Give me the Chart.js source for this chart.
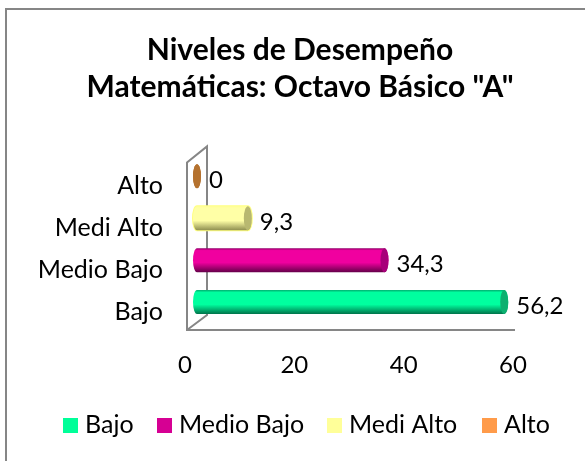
<!DOCTYPE html>
<html>
<head>
<meta charset="utf-8">
<script src="https://cdn.jsdelivr.net/npm/chart.js@4"></script>
<style>
  html, body { margin: 0; padding: 0; background: #fff; }
  #box { width: 585px; height: 461px; }
</style>
</head>
<body>
<div id="box"><canvas id="grafico" width="585" height="461"></canvas></div>
<script>
const categorias = ["Alto", "Medi Alto", "Medio Bajo", "Bajo"];
const series = ["Bajo", "Medio Bajo", "Medi Alto", "Alto"];
const bajo = [null, null, null, 56.2];
const medioBajo = [null, null, 34.3, null];
const mediAlto = [null, 9.3, null, null];
const alto = [0, null, null, null];
const ticksX = [0, 20, 40, 60];

const coresLegenda = ["#00FF99", "#D60093", "#FFFF99", "#FF9B4A"];
// topo, brilho, base, tampa do cilindro
const coresBarra = [
    ["#00B070", "#00FF9F", "#00734A", "#0DB070"],
    ["#8A0066", "#F0009F", "#66004A", "#A8007A"],
    ["#FFFF99", "#FFFFA6", "#8F8F50", "#B8B870"],
    ["#B5722F", "#B5722F", "#B5722F", "#B5722F"]
];
const FONTE = "Lato";
const CINZA = "#868686";
const RX = 4, DX = 12, DY = -8;

// Moldura e paredes "3D" do gráfico
const fundo = {
    id: "fundo",
    afterLayout(chart) {
        // centraliza o título na moldura, não na área com padding
        chart.titleBlock.left = 15;
        chart.titleBlock.right = 585;
    },
    beforeDraw(chart) {
        const c = chart.ctx;
        const a = chart.chartArea;
        c.save();
        c.strokeStyle = CINZA;
        c.lineWidth = 2;
        // só a borda de cima e a da esquerda aparecem
        c.beginPath();
        c.moveTo(585, 9);
        c.lineTo(6, 9);
        c.lineTo(6, 461);
        c.stroke();
        const x0 = a.left + 2, x1 = x0 + 20, yb = a.bottom - 1, yt = a.top - 1;
        c.beginPath();
        c.moveTo(a.right + 2, yb);
        c.lineTo(x0, yb);
        c.lineTo(x0, yt);
        c.lineTo(x1, yt - 16);
        c.lineTo(x1, yb - 15);
        c.lineTo(x0, yb);
        c.stroke();
        c.restore();
    }
};

// Desenha cada barra como cilindro, a partir dos elementos do Chart.js
const cilindro = {
    id: "cilindro",
    beforeDatasetDraw(chart, args) {
        const c = chart.ctx;
        const cores = coresBarra[args.index];
        const base = chart.scales.x.getPixelForValue(0) + DX;
        args.meta.data.forEach((bar, i) => {
            if (chart.data.datasets[args.index].data[i] === null) return;
            const y = bar.y + DY;
            const h = 24;
            const fim = bar.x + DX;
            const grad = c.createLinearGradient(0, y - h / 2, 0, y + h / 2);
            grad.addColorStop(0, cores[0]);
            grad.addColorStop(0.1, cores[1]);
            grad.addColorStop(0.6, cores[1]);
            grad.addColorStop(1, cores[2]);
            c.save();
            c.fillStyle = grad;
            c.beginPath();
            c.ellipse(base, y, RX, h / 2, 0, Math.PI / 2, Math.PI * 1.5);
            c.lineTo(fim, y - h / 2);
            c.ellipse(fim, y, RX, h / 2, 0, -Math.PI / 2, Math.PI / 2);
            c.closePath();
            if (args.index === 2) {
                // halo claro da barra amarela
                c.strokeStyle = "#FFFF80";
                c.lineWidth = 2;
                c.stroke();
            }
            c.fill();
            c.fillStyle = cores[3];
            c.beginPath();
            c.ellipse(fim, y, RX, h / 2, 0, 0, Math.PI * 2);
            c.fill();
            c.restore();
        });
        return false;
    },
    afterDatasetsDraw(chart) {
        const c = chart.ctx;
        c.save();
        c.font = "24px " + FONTE;
        c.fillStyle = "#000";
        c.textBaseline = "middle";
        chart.data.datasets.forEach((ds, k) => {
            chart.getDatasetMeta(k).data.forEach((bar, i) => {
                if (ds.data[i] === null) return;
                c.fillText(String(ds.data[i]).replace(".", ","), bar.x + 24, bar.y - 4);
            });
        });
        c.restore();
    }
};

// Legenda própria: o espaço entre quadrado e texto é menor que o padrão
const legenda = {
    id: "legenda",
    afterDraw(chart) {
        const c = chart.ctx;
        const xs = [63, 157, 327, 482];
        c.save();
        c.font = "25px " + FONTE;
        c.textBaseline = "middle";
        chart.data.datasets.forEach((ds, k) => {
            c.fillStyle = coresLegenda[k];
            c.fillRect(xs[k], 418, 15, 15);
            c.fillStyle = "#000";
            c.fillText(ds.label, xs[k] + 22, 425);
        });
        c.restore();
    }
};

const dados = [bajo, medioBajo, mediAlto, alto];

new Chart(document.getElementById("grafico"), {
    type: "bar",
    data: {
        labels: categorias,
        datasets: series.map((nome, k) => ({
            label: nome,
            data: dados[k],
            backgroundColor: coresLegenda[k],
            stack: "s"
        }))
    },
    options: {
        indexAxis: "y",
        responsive: false,
        animation: false,
        layout: { padding: { top: 0, right: 72, bottom: 0, left: 0 } },
        plugins: {
            legend: { display: false },
            tooltip: { enabled: false },
            title: {
                display: true,
                text: ["Niveles de Desempeño", "Matemáticas: Octavo Básico \"A\""],
                color: "#000",
                font: { family: FONTE, size: 30, weight: "bold", lineHeight: 1.24 },
                padding: { top: 32, bottom: 57 }
            }
        },
        scales: {
            x: {
                type: "linear",
                min: 0,
                max: 60,
                afterBuildTicks(axis) { axis.ticks = ticksX.map(v => ({ value: v })); },
                afterFit(axis) { axis.height = 130; },
                grid: { display: false },
                border: { display: false },
                ticks: { color: "#000", padding: 12, font: { family: FONTE, size: 24 } }
            },
            y: {
                stacked: true,
                grid: { display: false },
                border: { display: false },
                afterFit(axis) { axis.width = 185; },
                ticks: { color: "#000", padding: 14, labelOffset: 2, font: { family: FONTE, size: 25 } }
            }
        }
    },
    plugins: [fundo, cilindro, legenda]
});
</script>
</body>
</html>
